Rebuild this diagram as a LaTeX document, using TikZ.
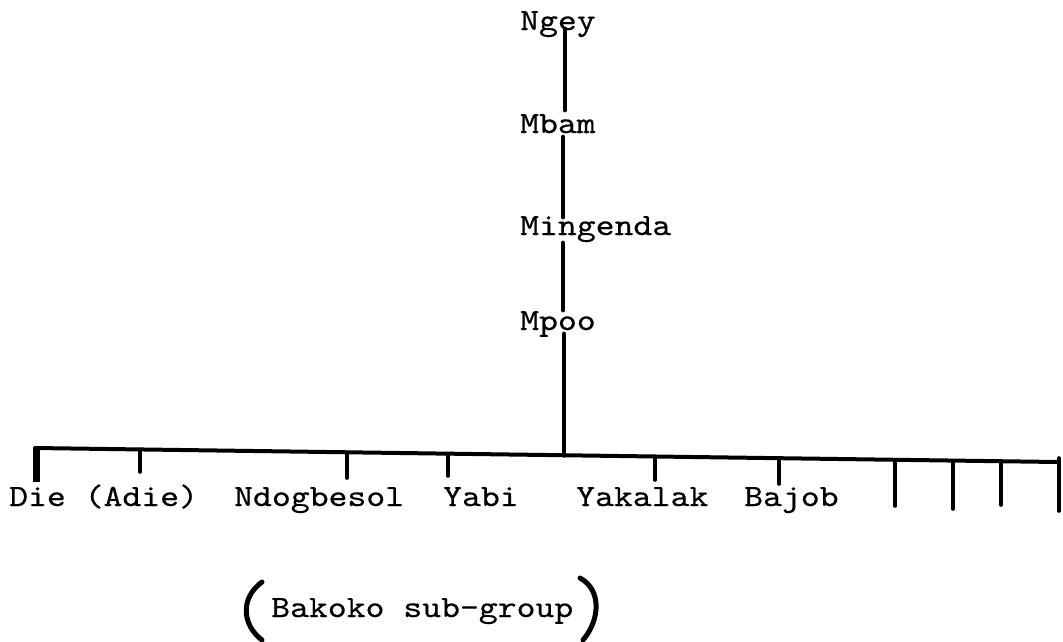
\documentclass[tikz,border=0pt]{standalone}
\usepackage{fontspec}
\usepackage{graphicx}
\usetikzlibrary{calc}
% inked typewriter face
\newfontfamily\typew[FakeBold=0.4]{lmmono10-regular.otf}
% widened to pica pitch
\newcommand\tw[1]{\scalebox{1.16}[1]{#1}}
\tikzset{
  lbl/.style={anchor=base west, inner sep=0pt, font=\fontsize{31}{31}\typew},
  trunk/.style={line width=4.8pt, line cap=round},
  bar/.style={line width=4pt, line cap=round},
  tick/.style={line width=3.6pt, line cap=round},
  paren/.style={line width=5pt, line cap=round},
}
\begin{document}
\begin{tikzpicture}[x=1pt, y=-1pt]
\useasboundingbox (0,0) rectangle (1063,641);

% line of descent
\node[lbl] (ngey)     at (520,30)  {\tw{Ngey}};
\node[lbl] (mbam)     at (520,133) {\tw{Mbam}};
\node[lbl] (mingenda) at (520,235) {\tw{Mingenda}};
\node[lbl] (mpoo)     at (520,330) {\tw{Mpoo}};

\coordinate (a0) at (565,29);  \coordinate (a1) at (565,110);
\coordinate (b0) at (563,137); \coordinate (b1) at (563,217);
\coordinate (c0) at (563,243); \coordinate (c1) at (563,310);
\coordinate (d0) at (564,334);
\draw[trunk] (a0) -- (a1);
\draw[trunk] (b0) -- (b1);
\draw[trunk] (c0) -- (c1);

% horizontal bar
\coordinate (barL) at (35,448);
\coordinate (barR) at (1058,462);
\coordinate (d1) at (564,455.3);
\draw[trunk] (d0) -- (d1);
\draw[bar] (barL) -- (barR);

% descendant groups
\node[lbl] (die)     at (9,506)   {\tw{Die (Adie)}};
\node[lbl] (ndog)    at (234,506) {\tw{Ndogbesol}};
\node[lbl] (yabi)    at (443,506) {\tw{Yabi}};
\node[lbl] (yakalak) at (576,506) {\tw{Yakalak}};
\node[lbl] (bajob)   at (744,506) {\tw{Bajob}};

% drops from the bar
\draw[line width=7pt] (36,447) -- (36,482);
\foreach \x/\yt/\yb in {140/449.4/472, 347/452.3/478, 448/453.7/476,
    655/456.5/480, 779/458.2/484, 895/459.8/506, 953/460.6/509,
    1001/461.2/505}
  \draw[tick] (\x,\yt) -- (\x,\yb);
\draw[tick] (1059,458) -- (1059,511);

% bracketed sub-group name
\node[lbl] (bakoko) at (271,617) {\tw{Bakoko sub-group}};
\coordinate (lp0) at (262,582); \coordinate (lp1) at (262,640);
\coordinate (rp0) at (580,578); \coordinate (rp1) at (583,640);
\draw[paren] (lp0) .. controls (240,598) and (242,625) .. (lp1);
\draw[paren] (rp0) .. controls (602,590) and (600,620) .. (rp1);
\end{tikzpicture}
\end{document}
